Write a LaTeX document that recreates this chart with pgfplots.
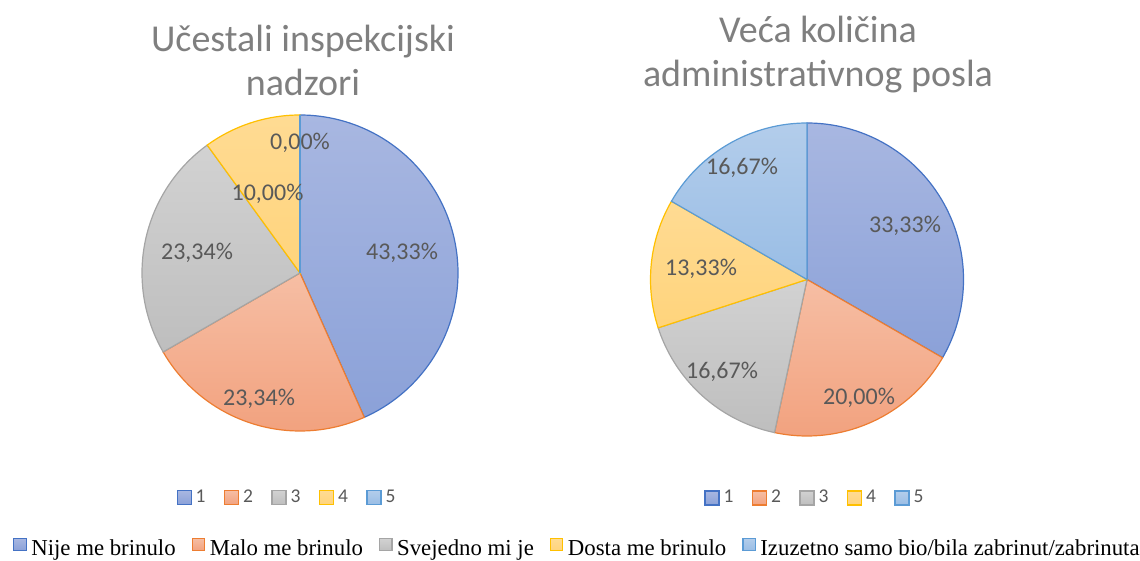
\documentclass[border=0pt]{standalone}
\usepackage{fontspec}
\setmainfont{Carlito}
\newfontfamily\seriffont{Liberation Serif}
\usepackage{pgfplots}
\usepackage{pgfplotstable}
\pgfplotsset{compat=1.18}

\definecolor{c1}{HTML}{4472C4}\definecolor{c1t}{HTML}{A8B7E1}\definecolor{c1b}{HTML}{8BA1D8}
\definecolor{c2}{HTML}{ED7D31}\definecolor{c2t}{HTML}{F6BEA4}\definecolor{c2b}{HTML}{F2A27F}
\definecolor{c3}{HTML}{A5A5A5}\definecolor{c3t}{HTML}{D2D2D2}\definecolor{c3b}{HTML}{BEBEBE}
\definecolor{c4}{HTML}{FFC000}\definecolor{c4t}{HTML}{FFDB93}\definecolor{c4b}{HTML}{FFD47C}
\definecolor{c5}{HTML}{5B9BD5}\definecolor{c5t}{HTML}{B3CDEB}\definecolor{c5b}{HTML}{99BDE5}
\definecolor{titlegray}{HTML}{7F7F7F}
\definecolor{labgray}{HTML}{595959}

\tikzset{
 s1/.style={draw=c1, line width=0.6pt, top color=c1t, bottom color=c1b},
 s2/.style={draw=c2, line width=0.6pt, top color=c2t, bottom color=c2b},
 s3/.style={draw=c3, line width=0.6pt, top color=c3t, bottom color=c3b},
 s4/.style={draw=c4, line width=0.6pt, top color=c4t, bottom color=c4b},
 s5/.style={draw=c5, line width=0.6pt, top color=c5t, bottom color=c5b},
}

% shares in percent: A = Ucestali inspekcijski nadzori, B = Veca kolicina administrativnog posla
\pgfplotstableread{
cat A B
1 43.33 33.33
2 23.34 20.00
3 23.34 16.67
4 10.00 13.33
5 0.00 16.67
}\piedata

\newcommand\getv[3]{\pgfplotstablegetelem{#1}{#2}\of\piedata\global\let#3\pgfplotsretval}
\getv{0}{A}\vAi \getv{1}{A}\vAii \getv{2}{A}\vAiii \getv{3}{A}\vAiv \getv{4}{A}\vAv
\getv{0}{B}\vBi \getv{1}{B}\vBii \getv{2}{B}\vBiii \getv{3}{B}\vBiv \getv{4}{B}\vBv
\pgfmathsetmacro\aAi{90}
\pgfmathsetmacro\aAii{\aAi-3.6*\vAi}
\pgfmathsetmacro\aAiii{\aAii-3.6*\vAii}
\pgfmathsetmacro\aAiv{\aAiii-3.6*\vAiii}
\pgfmathsetmacro\aAv{\aAiv-3.6*\vAiv}
\pgfmathsetmacro\aBi{90}
\pgfmathsetmacro\aBii{\aBi-3.6*\vBi}
\pgfmathsetmacro\aBiii{\aBii-3.6*\vBii}
\pgfmathsetmacro\aBiv{\aBiii-3.6*\vBiii}
\pgfmathsetmacro\aBv{\aBiv-3.6*\vBiv}
\pgfmathsetmacro\aBvi{\aBv-3.6*\vBv}

\newcommand\pct[1]{\pgfmathprintnumber[fixed,fixed zerofill,precision=2,use comma,assume math mode=true]{#1}\%}

\pgfplotsset{
 base/.style={width=570pt, height=280.5pt, scale only axis, xmin=0, xmax=1140, ymin=0, ymax=561,
   hide axis, clip=false, at={(0,0)}, anchor=south west},
 smalllegend/.style={
   legend image code/.code={\draw[##1] (0pt,-3.5pt) rectangle (7pt,3.5pt);},
   legend style={draw=none, fill=none, anchor=center, legend columns=-1, inner sep=0pt,
     font=\fontsize{9.75pt}{11pt}\selectfont, text=labgray,
     column sep=0pt, nodes={inner sep=0pt},
     /tikz/every odd column/.append style={column sep=2pt},
     /tikz/every even column/.append style={column sep=9.2pt}}},
}
\tikzset{lab/.style={anchor=base, font=\fontsize{12pt}{14pt}\selectfont, text=labgray}}
\tikzset{ttl/.style={anchor=base, font=\fontsize{19pt}{20pt}\selectfont, text=titlegray}}

\begin{document}
\begin{tikzpicture}
% ---------- Pie 1 ----------
\begin{axis}[base, smalllegend, legend style={at={(0.2509,0.1132)}}]
\addplot[s1, domain=\aAii:\aAi, samples=120, variable=\t] ({300+158*cos(\t)},{288+158*sin(\t)}) -- (axis cs:300,288) -- cycle;
\addlegendentry{1}
\addplot[s2, domain=\aAiii:\aAii, samples=80, variable=\t] ({300+158*cos(\t)},{288+158*sin(\t)}) -- (axis cs:300,288) -- cycle;
\addlegendentry{2}
\addplot[s3, domain=\aAiv:\aAiii, samples=80, variable=\t] ({300+158*cos(\t)},{288+158*sin(\t)}) -- (axis cs:300,288) -- cycle;
\addlegendentry{3}
\addplot[s4, domain=\aAv:\aAiv, samples=50, variable=\t] ({300+158*cos(\t)},{288+158*sin(\t)}) -- (axis cs:300,288) -- cycle;
\addlegendentry{4}
% zero share: drawn as a radius only
\addplot[draw=c5, line width=0.6pt, forget plot] coordinates {(300,288) (300,446)};
\addlegendimage{s5}
\addlegendentry{5}
\node[lab] at (axis cs:300,411) {\pct{\vAv}};
\node[lab] at (axis cs:267.5,360) {\pct{\vAiv}};
\node[lab] at (axis cs:197,301) {\pct{\vAiii}};
\node[lab] at (axis cs:402,301) {\pct{\vAi}};
\node[lab] at (axis cs:259,155) {\pct{\vAii}};
\node[ttl] at (axis cs:303,509) {Učestali inspekcijski};
\node[ttl] at (axis cs:303,465) {nadzori};
\end{axis}
% ---------- Pie 2 ----------
\begin{axis}[base, smalllegend, legend style={at={(0.7140,0.1123)}}]
\addplot[s1, domain=\aBii:\aBi, samples=100, variable=\t] ({807+156.5*cos(\t)},{281.5+156.5*sin(\t)}) -- (axis cs:807,281.5) -- cycle;
\addlegendentry{1}
\addplot[s2, domain=\aBiii:\aBii, samples=80, variable=\t] ({807+156.5*cos(\t)},{281.5+156.5*sin(\t)}) -- (axis cs:807,281.5) -- cycle;
\addlegendentry{2}
\addplot[s3, domain=\aBiv:\aBiii, samples=80, variable=\t] ({807+156.5*cos(\t)},{281.5+156.5*sin(\t)}) -- (axis cs:807,281.5) -- cycle;
\addlegendentry{3}
\addplot[s4, domain=\aBv:\aBiv, samples=60, variable=\t] ({807+156.5*cos(\t)},{281.5+156.5*sin(\t)}) -- (axis cs:807,281.5) -- cycle;
\addlegendentry{4}
\addplot[s5, domain=\aBvi:\aBv, samples=80, variable=\t] ({807+156.5*cos(\t)},{281.5+156.5*sin(\t)}) -- (axis cs:807,281.5) -- cycle;
\addlegendentry{5}
\node[lab] at (axis cs:905,328) {\pct{\vBi}};
\node[lab] at (axis cs:859,156) {\pct{\vBii}};
\node[lab] at (axis cs:722,182) {\pct{\vBiii}};
\node[lab] at (axis cs:701,285) {\pct{\vBiv}};
\node[lab] at (axis cs:742,386) {\pct{\vBv}};
\node[ttl] at (axis cs:818,518) {Veća količina};
\node[ttl] at (axis cs:818,474) {administrativnog posla};
\end{axis}
% ---------- Bottom legend ----------
\begin{axis}[base,
  legend image code/.code={\draw[#1] (0pt,-0.6pt) rectangle (6.2pt,5.6pt);},
  legend style={at={(0.01123,0.0225)}, anchor=west, draw=none, fill=none, legend columns=-1, inner sep=0pt,
     font=\seriffont\fontsize{11.4pt}{13pt}\selectfont, text=black,
     column sep=0pt, nodes={inner sep=0pt},
     /tikz/every odd column/.append style={column sep=2.25pt},
     /tikz/every even column/.append style={column sep=8pt}}]
\addlegendimage{s1}\addlegendentry{Nije me brinulo}
\addlegendimage{s2}\addlegendentry{Malo me brinulo}
\addlegendimage{s3}\addlegendentry{Svejedno mi je}
\addlegendimage{s4}\addlegendentry{Dosta me brinulo}
\addlegendimage{s5}\addlegendentry{Izuzetno samo bio/bila zabrinut/zabrinuta}
\end{axis}
\pgfresetboundingbox
\path[use as bounding box] (0,0) rectangle (570pt,280.5pt);
\end{tikzpicture}
\end{document}
